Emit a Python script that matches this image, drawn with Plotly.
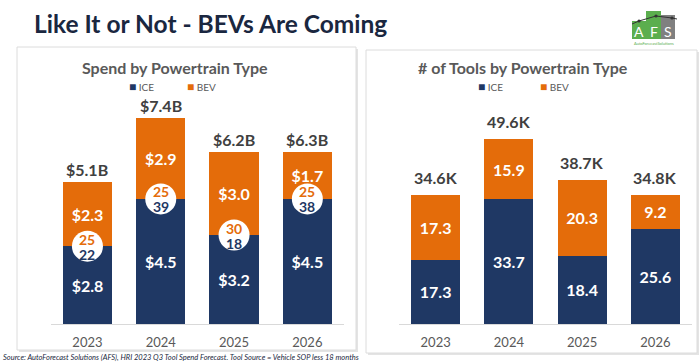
import plotly.graph_objects as go

W, H = 700, 364

years = ["2023", "2024", "2025", "2026"]
series_names = ["ICE", "BEV"]

spend_ice = [2.8, 4.5, 3.2, 4.5]
spend_bev = [2.3, 2.9, 3.0, 1.7]
spend_total = [5.1, 7.4, 6.2, 6.3]
circle_bev = [25, 25, 30, 25]
circle_ice = [22, 39, 18, 38]

tools_ice = [17.3, 33.7, 18.4, 25.6]
tools_bev = [17.3, 15.9, 20.3, 9.2]
tools_total = [34.6, 49.6, 38.7, 34.8]

NAVY = "#1F3864"
ORANGE = "#E46C0A"
GRAY = "#595959"
DARK = "#404040"
FONT = "Lato"


def px(x):
    return x / W


def py(y):
    return 1 - y / H


fig = go.Figure()

# --- bars ---
for xa, ya, ice, bev, fmt in [
    ("x", "y", spend_ice, spend_bev, "${:.1f}"),
    ("x2", "y2", tools_ice, tools_bev, "{:.1f}"),
]:
    for name, vals, col in [("ICE", ice, NAVY), ("BEV", bev, ORANGE)]:
        fig.add_trace(go.Bar(
            x=years, y=vals, name=name, marker=dict(color=col, line=dict(width=0)),
            text=[fmt.format(v) for v in vals], textposition="inside",
            insidetextanchor="middle", textangle=0, constraintext="none",
            insidetextfont=dict(color="white", size=16, family=FONT, weight="bold"),
            xaxis=xa, yaxis=ya, showlegend=False, hoverinfo="skip",
        ))

# circles on spend chart
fig.add_trace(go.Scatter(
    x=years, y=spend_ice, mode="markers",
    marker=dict(size=31, color="white", line=dict(width=0)),
    xaxis="x", yaxis="y", showlegend=False, hoverinfo="skip", cliponaxis=False,
))

ann = []
# annotations on category axes use the category index
for i, yr in enumerate(years):
    ann.append(dict(x=i, y=spend_ice[i], xref="x", yref="y", text=str(circle_bev[i]),
                    showarrow=False, yshift=7, font=dict(size=14, color=ORANGE, family=FONT, weight="bold")))
    ann.append(dict(x=i, y=spend_ice[i], xref="x", yref="y", text=str(circle_ice[i]),
                    showarrow=False, yshift=-8, font=dict(size=14, color=NAVY, family=FONT, weight="bold")))
    ann.append(dict(x=i, y=spend_ice[i] + spend_bev[i], xref="x", yref="y",
                    text="${:.1f}B".format(spend_total[i]), showarrow=False,
                    yanchor="bottom", yshift=1,
                    font=dict(size=16, color=DARK, family=FONT, weight="bold")))
    ann.append(dict(x=i, y=tools_ice[i] + tools_bev[i], xref="x2", yref="y2",
                    text="{:.1f}K".format(tools_total[i]), showarrow=False,
                    yanchor="bottom", yshift=6,
                    font=dict(size=16, color=DARK, family=FONT, weight="bold")))

# chart titles
ann.append(dict(x=px(175), y=py(67), xref="paper", yref="paper", text="Spend by Powertrain Type",
                showarrow=False, xanchor="center", yanchor="middle",
                font=dict(size=16, color=GRAY, family=FONT, weight="bold")))
ann.append(dict(x=px(523), y=py(67), xref="paper", yref="paper", text="# of Tools by Powertrain Type",
                showarrow=False, xanchor="center", yanchor="middle",
                font=dict(size=16, color=GRAY, family=FONT, weight="bold")))

# legends
for lx, name, col in [(127, series_names[0], NAVY), (185, series_names[1], ORANGE),
                      (476, series_names[0], NAVY), (538, series_names[1], ORANGE)]:
    ann.append(dict(x=px(lx), y=py(86), xref="paper", yref="paper",
                    text=f"<span style='color:{col};font-size:12px'>■</span> {name}",
                    showarrow=False, xanchor="left", yanchor="middle",
                    font=dict(size=10, color=GRAY, family=FONT)))

# main title
ann.append(dict(x=px(32), y=py(23), xref="paper", yref="paper",
                text="Like It or Not - BEVs Are Coming", showarrow=False,
                xanchor="left", yanchor="middle",
                font=dict(size=24.5, color="#1A2740", family=FONT, weight="bold")))

# source
ann.append(dict(x=px(1), y=py(357), xref="paper", yref="paper",
                text="<i>Source: AutoForecast Solutions (AFS), HRI 2023 Q3 Tool Spend Forecast. Tool Source = Vehicle SOP less 18 months</i>",
                showarrow=False, xanchor="left", yanchor="middle",
                font=dict(size=7.5, color="#1A2740", family=FONT)))

# logo letters
for lx, letter in [(639, "A"), (653.5, "F"), (668, "S")]:
    ann.append(dict(x=px(lx), y=py(31), xref="paper", yref="paper", text=letter,
                    showarrow=False, xanchor="center", yanchor="middle",
                    font=dict(size=14, color="white", family=FONT)))
ann.append(dict(x=px(654), y=py(43), xref="paper", yref="paper", text="AutoForecastSolutions",
                showarrow=False, xanchor="center", yanchor="middle",
                font=dict(size=4, color="#5BAE4E", family=FONT)))

shapes = []
# panels (shadow + box)
for x0, y0, x1, y1 in [(17, 47, 356, 350), (366, 50, 697, 353)]:
    shapes.append(dict(type="rect", xref="paper", yref="paper", layer="below",
                       x0=px(x0 + 2), x1=px(x1 + 2), y0=py(y1 + 2), y1=py(y0 + 2),
                       fillcolor="#e4e4e4", line=dict(width=0)))
    shapes.append(dict(type="rect", xref="paper", yref="paper", layer="below",
                       x0=px(x0), x1=px(x1), y0=py(y1), y1=py(y0),
                       fillcolor="white", line=dict(color="#dcdcdc", width=1)))
# logo boxes
for x0, x1, top, col in [(632, 646, 21, "#5BAE4E"), (646, 661, 11, "#5BAE4E"), (661, 675, 15, "#808080")]:
    shapes.append(dict(type="rect", xref="paper", yref="paper", layer="above",
                       x0=px(x0), x1=px(x1), y0=py(39), y1=py(top),
                       fillcolor=col, line=dict(width=0)))
shapes.append(dict(type="path", xref="paper", yref="paper", layer="above",
                   path=f"M {px(632)},{py(24)} L {px(639)},{py(21)} L {px(656)},{py(16)} L {px(672)},{py(18)} L {px(677)},{py(19)}",
                   line=dict(color="#333333", width=1)))
for cx, cy in [(639, 21), (656, 16), (672, 18)]:
    shapes.append(dict(type="circle", xref="paper", yref="paper", layer="above",
                       x0=px(cx - 1.6), x1=px(cx + 1.6), y0=py(cy + 1.6), y1=py(cy - 1.6),
                       fillcolor="#333333", line=dict(width=0)))

ydom = [py(324), py(100)]
axis_common = dict(type="category", range=[-0.5, 3.5], showgrid=False, zeroline=False,
                   showline=True, linecolor="#d9d9d9",
                   linewidth=1, ticks="", tickfont=dict(size=13, color=GRAY, family=FONT),
                   ticklabelstandoff=6, fixedrange=True)
yaxis_common = dict(showgrid=False, zeroline=False, showticklabels=False, showline=False,
                    fixedrange=True)

fig.update_layout(
    width=W, height=H, margin=dict(l=0, r=0, t=0, b=0),
    paper_bgcolor="white", plot_bgcolor="rgba(0,0,0,0)",
    barmode="stack", bargap=0.33,
    xaxis=dict(domain=[px(50.8), px(344)], anchor="y", **axis_common),
    yaxis=dict(domain=ydom, range=[0, 224 / 27.8], anchor="x", **yaxis_common),
    xaxis2=dict(domain=[px(399), px(692)], anchor="y2", **axis_common),
    yaxis2=dict(domain=ydom, range=[0, 224 / 3.72], anchor="x2", **yaxis_common),
    annotations=ann, shapes=shapes, showlegend=False,
    font=dict(family=FONT),
)

fig.write_html("out.html", config={"displayModeBar": False, "staticPlot": True},
               post_script="document.body.style.margin='0';document.body.style.overflow='hidden';")
